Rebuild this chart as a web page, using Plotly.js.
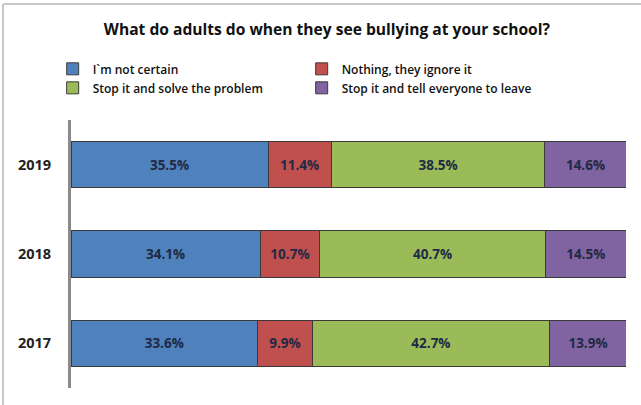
<!DOCTYPE html>
<html>
<head>
<meta charset="utf-8">
<script src="https://cdn.plot.ly/plotly-3.0.1.min.js"></script>
<style>html,body{margin:0;padding:0;background:#fff;}#chart{width:641px;height:405px;}</style>
</head>
<body>
<div id="chart"></div>
<script>
const years = ["2017", "2018", "2019"];
const seriesNames = ["I`m not certain", "Nothing, they ignore it", "Stop it and solve the problem", "Stop it and tell everyone to leave"];
const notCertain = [33.6, 34.1, 35.5];
const ignoreIt = [9.9, 10.7, 11.4];
const solveProblem = [42.7, 40.7, 38.5];
const tellLeave = [13.9, 14.5, 14.6];
const colors = ["#4F81BD", "#C0504D", "#9BBB59", "#8064A2"];

const FONT = "'Open Sans', Lato, sans-serif";
const values = [notCertain, ignoreIt, solveProblem, tellLeave];
const traces = values.map((v, i) => ({
  type: "bar",
  orientation: "h",
  name: seriesNames[i],
  y: years,
  x: v,
  marker: {color: colors[i], line: {color: "#3a3a3a", width: 1}},
  texttemplate: "%{x:.1f}%",
  textposition: "inside",
  insidetextanchor: "middle",
  textangle: 0,
  constraintext: "none",
  textfont: {family: FONT, size: 13.5, color: "#1F2A44", weight: "bold"},
  hoverinfo: "skip"
}));

const layout = {
  width: 641, height: 405,
  margin: {l: 71, r: 15, t: 120, b: 17},
  paper_bgcolor: "#fff", plot_bgcolor: "#fff",
  barmode: "stack",
  bargap: 0.48,
  showlegend: true,
  title: {
    text: "<b>What do adults do when they see bullying at your school?</b>",
    font: {family: FONT, size: 15.6, color: "#111"},
    x: 0.51, xanchor: "center", y: 0.926, yanchor: "middle", xref: "container", yref: "container"
  },
  legend: {
    orientation: "h",
    x: -0.033, xanchor: "left", y: 1.245, yanchor: "top",
    entrywidth: 204, entrywidthmode: "pixels",
    traceorder: "normal",
    font: {family: FONT, size: 12, color: "#111", weight: 600},
    itemwidth: 30
  },
  xaxis: {range: [0, 100], visible: false, fixedrange: true},
  yaxis: {
    type: "category",
    categoryorder: "array", categoryarray: years,
    range: [-0.5, 2.5],
    showline: true, linecolor: "#8a8a8a", linewidth: 3,
    ticks: "", showgrid: false, zeroline: false,
    ticklabelstandoff: 14,
    tickfont: {family: FONT, size: 14.5, color: "#222", weight: "bold"}
  },
  shapes: [
    {type: "line", xref: "paper", yref: "paper", x0: -0.1225, x1: -0.1225, y0: -0.07, y1: 1.433, line: {color: "#c8c8c8", width: 2}},
    {type: "line", xref: "paper", yref: "paper", x0: -0.1225, x1: 1.03, y0: 1.433, y1: 1.433, line: {color: "#c8c8c8", width: 2}}
  ]
};

Plotly.newPlot("chart", traces, layout, {displayModeBar: false, staticPlot: true});
</script>
</body>
</html>
